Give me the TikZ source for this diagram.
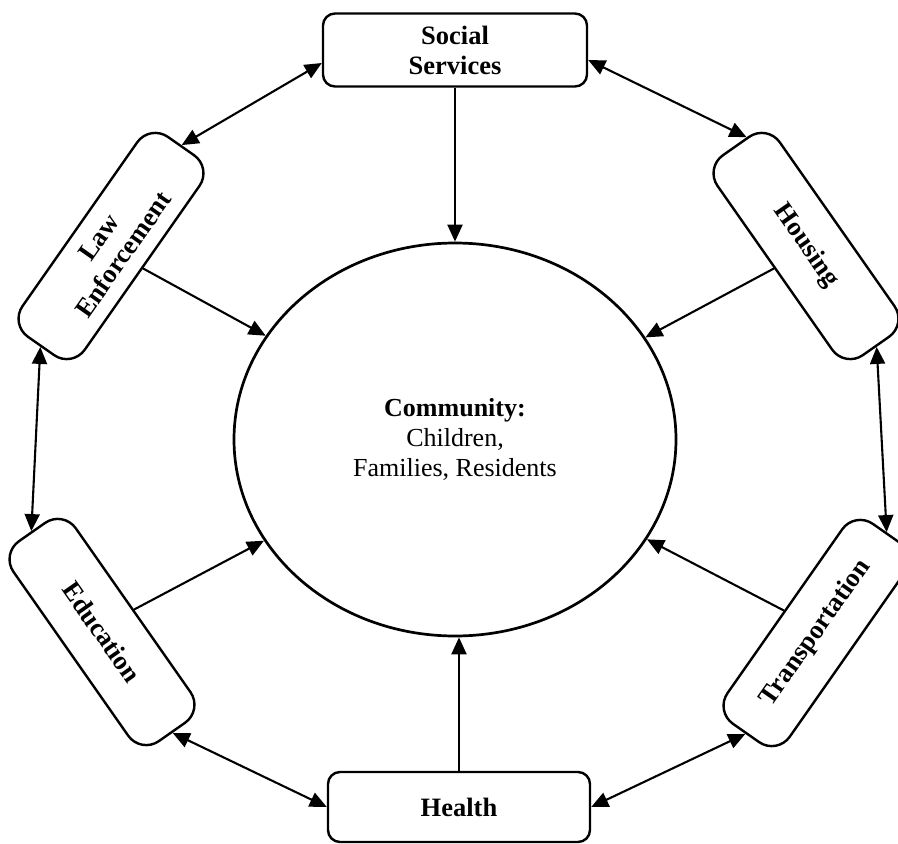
\documentclass[tikz,border=0pt]{standalone}
\usepackage{fontspec}
\setmainfont{Liberation Serif}
\usetikzlibrary{arrows.meta,shapes.geometric,calc}
\begin{document}
\begin{tikzpicture}[x=1pt,y=-1pt,
  agency/.style={draw=black, line width=2.4pt, fill=white, rounded corners=12pt,
    align=center, inner sep=2pt, font=\fontsize{26.5}{30}\selectfont\bfseries},
  flatbox/.style={agency, minimum width=264pt, minimum height=73pt},
  tiltbox/.style={agency, minimum width=244pt, minimum height=76pt, rounded corners=22pt},
  tip/.tip={Triangle[length=17pt,width=15pt]},
  feed/.style={line width=2.1pt, -tip},
  mutual/.style={line width=2.1pt, tip-tip},
]
\useasboundingbox (0,0) rectangle (898,844);

% central community
\node[ellipse, draw, line width=2.7pt, minimum width=442pt, minimum height=393pt,
  inner sep=0pt, align=center, font=\fontsize{26}{30}\selectfont]
  (comm) at (455,439.5) {\textbf{Community:}\\Children,\\Families, Residents};

% surrounding agencies
\node[flatbox] (social) at (455,50) {Social\\Services};
\node[flatbox, minimum width=262pt, minimum height=70pt] (health) at (459,807) {Health};
\node[tiltbox, rotate=55]  (law)     at (111,246) {Law\\Enforcement};
\node[tiltbox, rotate=-55] (housing) at (806,246) {Housing};
\node[tiltbox, rotate=-55] (educ)    at (102,632) {Education};
\node[tiltbox, rotate=55]  (transp)  at (816,633) {Transportation};

% links between neighbouring agencies
\draw[mutual] ([yshift=-13pt]social.west) -- (law.east);
\draw[mutual] ([yshift=-10pt]social.east) -- ($(housing.west)!0.35!(housing.north west)$);
\draw[mutual] (housing.east) -- (transp.east);
\draw[mutual] (transp.west) -- (health.east);
\draw[mutual] (health.west) -- (educ.east);
\draw[mutual] (educ.west) -- (law.west);

% services reaching the community
\draw[feed] (social.south) -- (comm);
\draw[feed] (health.north) -- (comm.south -| health.north);
\draw[feed] (law.south) -- (comm);
\draw[feed] (housing.south) -- (comm);
\draw[feed] (educ.north) -- (comm);
\draw[feed] (transp.north) -- (comm);
\end{tikzpicture}
\end{document}
